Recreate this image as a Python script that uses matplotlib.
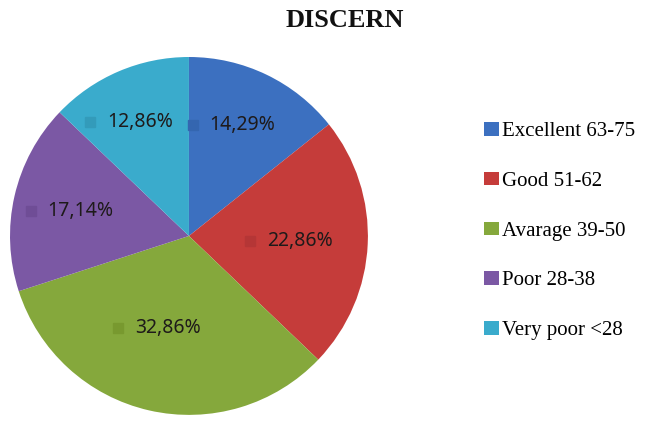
import numpy as np
import matplotlib.pyplot as plt
import matplotlib.transforms as mtransforms
from matplotlib.patches import Patch

# DISCERN score groups
categories = ['Excellent 63-75', 'Good 51-62', 'Avarage 39-50', 'Poor 28-38', 'Very poor <28']
shares = [14.29, 22.86, 32.86, 17.14, 12.86]
pct_labels = ['14,29%', '22,86%', '32,86%', '17,14%', '12,86%']

colors = ['#3c70c0', '#c53c3a', '#85a83c', '#7b58a4', '#3aabcc']
marker_colors = ['#3466b0', '#b53636', '#78992f', '#6f4d96', '#339bba']

fig = plt.figure(figsize=(6.46, 4.33), dpi=100)
ax = fig.add_axes([0.0155, 0.0416, 0.554, 0.827])

wedges, _ = ax.pie(shares, colors=colors, startangle=90, counterclock=False,
                   radius=1.0, wedgeprops=dict(linewidth=0))
ax.set_xlim(-1, 1)
ax.set_ylim(-1, 1)
ax.set_aspect('equal')
ax.axis('off')

# percentage labels with a small square in front, like the Excel chart
dist = [0.69, 0.62, 0.53, 0.62, 0.69]
shift = mtransforms.ScaledTranslation(-36 / 72, 0, fig.dpi_scale_trans)
for w, lab, mc, d in zip(wedges, pct_labels, marker_colors, dist):
    ang = np.deg2rad((w.theta1 + w.theta2) / 2)
    x, y = d * np.cos(ang), d * np.sin(ang)
    ax.text(x, y, lab, ha='center', va='center', fontsize=14,
            family='Noto Sans', color='#1e1a1a')
    ax.plot([x], [y], marker='s', markersize=7, color=mc, linestyle='none',
            transform=ax.transData + shift, clip_on=False)

fig.text(0.534, 0.953, 'DISCERN', ha='center', va='center', fontsize=19,
         fontweight='bold', family='Liberation Serif', color='#111111')

handles = [Patch(facecolor=c, edgecolor='none') for c in colors]
fig.legend(handles, categories, loc='center left', bbox_to_anchor=(0.72, 0.466),
           frameon=False, prop={'family': 'Liberation Serif', 'size': 15},
           handlelength=0.72, handleheight=0.62, handletextpad=0.15,
           labelspacing=1.47)

plt.savefig('out.png', dpi=100)
